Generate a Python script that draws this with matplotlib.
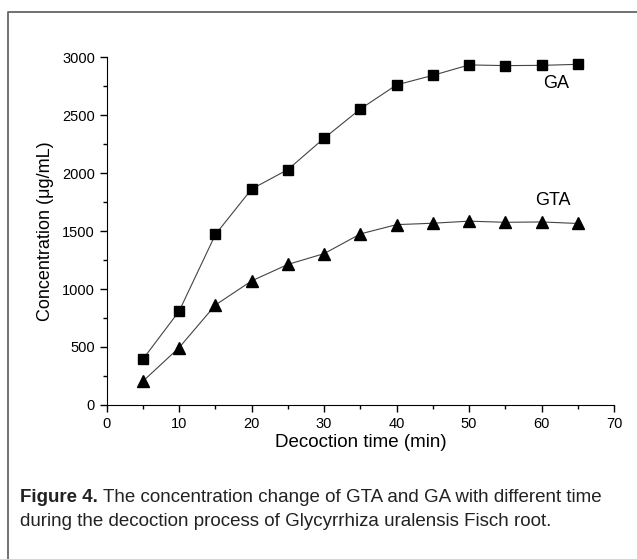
import matplotlib.pyplot as plt
from matplotlib.lines import Line2D
from matplotlib.ticker import MultipleLocator

plt.rcParams['font.family'] = ['Liberation Sans', 'DejaVu Sans']

time_min = [5, 10, 15, 20, 25, 30, 35, 40, 45, 50, 55, 60, 65]
ga = [395, 810, 1470, 1862, 2030, 2300, 2552, 2760, 2842, 2932, 2926, 2928, 2937]
gta = [205, 495, 862, 1070, 1212, 1305, 1475, 1555, 1567, 1585, 1575, 1578, 1565]

fig = plt.figure(figsize=(6.37, 5.59), dpi=100)
ax = fig.add_axes([0.1675, 0.2755, 0.7965, 0.6225])

ax.plot(time_min, ga, color='#444444', lw=0.8, marker='s', ms=6.5,
        mfc='black', mec='black')
ax.plot(time_min, gta, color='#444444', lw=0.8, marker='^', ms=8,
        mfc='black', mec='black')

ax.text(62, 2770, 'GA', fontsize=13, ha='center', va='center')
ax.text(61.5, 1760, 'GTA', fontsize=13, ha='center', va='center')

ax.set_xlim(0, 70)
ax.set_ylim(0, 3000)
ax.xaxis.set_major_locator(MultipleLocator(10))
ax.xaxis.set_minor_locator(MultipleLocator(5))
ax.yaxis.set_major_locator(MultipleLocator(500))
ax.yaxis.set_minor_locator(MultipleLocator(250))
ax.tick_params(which='major', direction='out', length=5, width=1, labelsize=10.5)
ax.tick_params(which='minor', direction='out', length=3, width=1)
ax.spines['top'].set_visible(False)
ax.spines['right'].set_visible(False)
ax.spines['left'].set_clip_on(False)
ax.spines['bottom'].set_clip_on(False)
ax.set_xlabel('Decoction time (min)', fontsize=13.5, labelpad=2)
ax.set_ylabel('Concentration (\u03bcg/mL)', fontsize=13, labelpad=6)

# outer frame, open at right and bottom (cropped)
fx = 8 / 637
fy = 1 - 12 / 559
fig.add_artist(Line2D([fx, fx, 1.0], [0, fy, fy], transform=fig.transFigure,
                      color='#666666', lw=1.3))

cap_size = 13.5
cap_color = '#222222'
bold = fig.text(20 / 637, 1 - 498 / 559, 'Figure 4.', fontsize=cap_size,
                fontweight='bold', color=cap_color, va='center')
renderer = fig.canvas.get_renderer()
bb = bold.get_window_extent(renderer=renderer)
x_rest = (bb.x1 + 5) / fig.bbox.width
fig.text(x_rest, 1 - 498 / 559,
         'The concentration change of GTA and GA with different time',
         fontsize=cap_size, color=cap_color, va='center')
fig.text(20 / 637, 1 - 521 / 559,
         'during the decoction process of Glycyrrhiza uralensis Fisch root.',
         fontsize=cap_size, color=cap_color, va='center')

fig.savefig('out.png', dpi=100)
